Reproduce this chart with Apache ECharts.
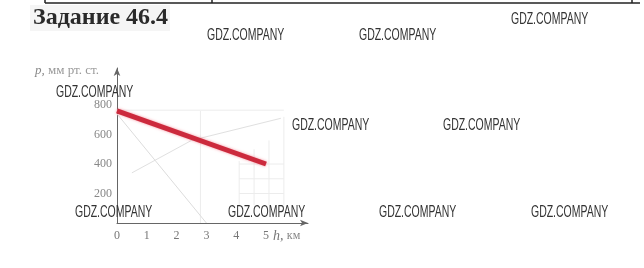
<!DOCTYPE html>
<html>
<head>
<meta charset="utf-8">
<style>
html,body{margin:0;padding:0;background:#fff;}
#c{width:644px;height:268px;}
</style>
<script src="https://cdn.jsdelivr.net/npm/echarts@6/dist/echarts.min.js"></script>
</head>
<body>
<div id="c"></div>
<script>
// Data
var titleText = 'Задание 46.4';
var yAxisName = 'мм рт. ст.';
var xAxisName = 'км';
var xTicks = [0, 1, 2, 3, 4, 5];
var yTicks = [200, 400, 600, 800];
var pressureLine = [[0, 760], [5, 400]];
var faintLineA = [[0, 740], [3, 0]];
var faintLineB = [[0.5, 340], [2.5, 560], [5.5, 710]];
var faintGridH = [[[0, 765], [5.6, 765]], [[4.1, 400], [5.6, 400]], [[4.1, 300], [5.6, 300]], [[4.1, 200], [5.6, 200]]];
var faintGridV = [[[2.8, 0], [2.8, 760]], [[4.1, 120], [4.1, 420]], [[4.6, 120], [4.6, 500]], [[5.1, 120], [5.1, 560]], [[5.6, 120], [5.6, 720]]];
var watermark = 'GDZ.COMPANY';
var watermarkSpots = [[207, 36], [359, 36], [511, 19.5], [56, 92.5], [292, 126], [443, 126], [75, 212.5], [228, 212.5], [379, 212.5], [531, 212.5]];

var chart = echarts.init(document.getElementById('c'), null, {renderer: 'canvas'});

var series = [];
function faint(d, c) {
  series.push({type: 'line', data: d, symbol: 'none', silent: true, z: 1,
    lineStyle: {color: c || '#e2e2e2', width: 1}});
}
faintGridH.forEach(function (d) { faint(d, '#ececec'); });
faintGridV.forEach(function (d) { faint(d, '#ececec'); });
faint(faintLineA, '#dcdcdc');
faint(faintLineB, '#e0e0e0');
series.push({type: 'line', data: pressureLine, symbol: 'none', z: 5,
  lineStyle: {color: '#cc2a3d', width: 5, shadowColor: 'rgba(240,80,100,0.6)', shadowBlur: 3}});

var graphics = [
  {type: 'rect', shape: {x: 30, y: 5, width: 140, height: 26}, style: {fill: '#f5f5f5'}, z: 0},
  {type: 'text', x: 33, y: 18, style: {text: titleText, font: 'bold 24px "Liberation Serif", serif', fill: '#2a2a2a', textVerticalAlign: 'middle'}},
  {type: 'line', shape: {x1: 45, y1: 3, x2: 640, y2: 3}, style: {stroke: '#222', lineWidth: 1.5}},
  {type: 'line', shape: {x1: 45, y1: 0, x2: 45, y2: 3}, style: {stroke: '#222', lineWidth: 1.5}},
  {type: 'line', shape: {x1: 212, y1: 0, x2: 212, y2: 3}, style: {stroke: '#222', lineWidth: 1.5}},
  {type: 'line', shape: {x1: 632, y1: 0, x2: 632, y2: 3}, style: {stroke: '#222', lineWidth: 1.5}},
  {type: 'text', x: 35, y: 71, style: {
    text: '{i|p,} {n|' + yAxisName + '}',
    rich: {i: {font: 'italic 13px "Liberation Serif", serif', fill: '#888'}, n: {font: '13px "Liberation Serif", serif', fill: '#999'}},
    textVerticalAlign: 'middle'}},
  {type: 'text', x: 273, y: 236, style: {
    text: '{i|h,} {n|' + xAxisName + '}',
    rich: {i: {font: 'italic 14px "Liberation Serif", serif', fill: '#777'}, n: {font: '12px "Liberation Serif", serif', fill: '#888'}},
    textVerticalAlign: 'middle'}}
];
watermarkSpots.forEach(function (p) {
  graphics.push({type: 'text', x: p[0], y: p[1], scaleX: 0.655, z: 100,
    style: {text: watermark, font: '16px "Liberation Sans", sans-serif', fill: '#333', textVerticalAlign: 'middle'}});
});

chart.setOption({
  animation: false,
  backgroundColor: '#fff',
  grid: {left: 117, top: 68, width: 191, height: 155, containLabel: false},
  xAxis: {
    type: 'value', min: 0, max: 6.41, interval: 1,
    axisLine: {show: true, symbol: ['none', 'arrow'], symbolSize: [5, 8], lineStyle: {color: '#666', width: 1}},
    axisTick: {show: false}, splitLine: {show: false},
    axisLabel: {margin: 7, color: '#777', fontFamily: '"Liberation Serif", serif', fontSize: 12,
      formatter: function (v) { return xTicks.indexOf(v) >= 0 ? String(v) : ''; }}
  },
  yAxis: {
    type: 'value', min: 0, max: 1051, interval: 200,
    axisLine: {show: true, symbol: ['none', 'arrow'], symbolSize: [5, 8], lineStyle: {color: '#666', width: 1}},
    axisTick: {show: false}, splitLine: {show: false},
    axisLabel: {margin: 5, color: '#888', fontFamily: '"Liberation Serif", serif', fontSize: 12,
      formatter: function (v) { return yTicks.indexOf(v) >= 0 ? String(v) : ''; }}
  },
  series: series,
  graphic: graphics
});
</script>
</body>
</html>
